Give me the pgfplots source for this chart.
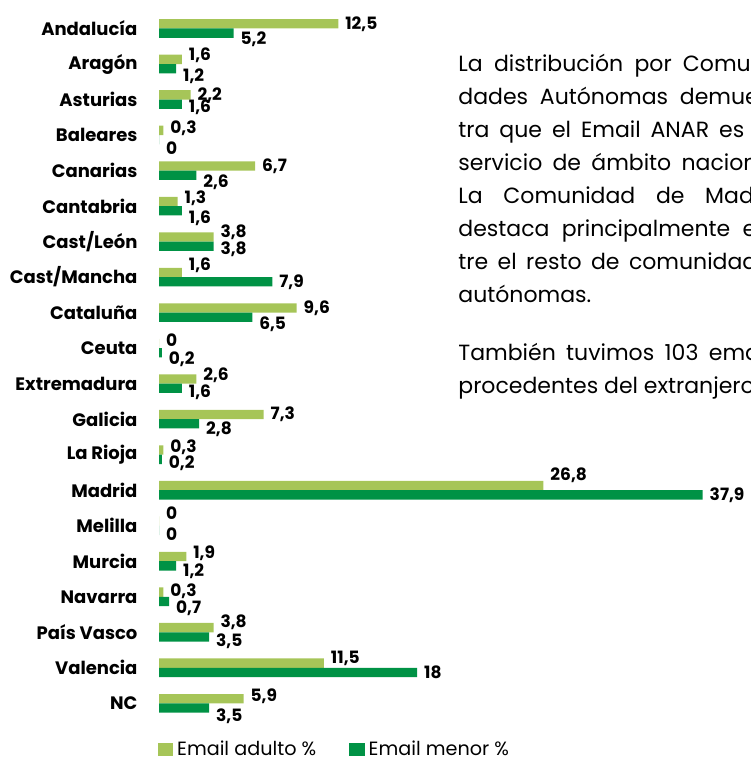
\documentclass[border=0pt]{standalone}
\usepackage{fontspec}
\setmainfont{Poppins}
\usepackage{pgfplots}
\pgfplotsset{compat=1.18}
\usepackage{pgfplotstable}
\definecolor{lgreen}{RGB}{166,197,88}
\definecolor{dgreen}{RGB}{0,146,69}

\pgfplotstableread{
idx val dy
0 12.5 0
1 1.6 2.2
2 2.2 0
3 0.3 1
4 6.7 0
5 1.3 1.75
6 3.8 2.5
7 1.6 3.75
8 9.6 0
9 0 1.5
10 2.6 2
11 7.3 0
12 0.3 1.5
13 26.8 5.3
14 0 4
15 1.9 1.8
16 0.3 0.5
17 3.8 2.85
18 11.5 2.25
19 5.9 1.35
}\adulto

\pgfplotstableread{
idx val dy
0 5.2 -3.2
1 1.2 -3.8
2 1.6 -1.3
3 0 -4
4 2.6 -3.3
5 1.6 -3.6
6 3.8 -1.3
7 7.9 0
8 6.5 -3.5
9 0.2 -3
10 1.6 -2
11 2.8 -2.5
12 0.2 -2
13 37.9 0
14 0 -2
15 1.2 -2.5
16 0.7 -3.2
17 3.5 -2
18 18 0
19 3.5 -4
}\menor

\newcommand\pline[3][s]{\node[anchor=base west, inner sep=0pt, font=\fontsize{11}{13}\selectfont] at (229pt,#2) {\makebox[162pt][#1]{#3}};}

\begin{document}
\begin{tikzpicture}
\useasboundingbox (0,0) rectangle (375pt,379pt);
\clip (0,0) rectangle (375pt,379pt);
\begin{axis}[
  at={(79.5pt,18.47pt)}, anchor=south west,
  scale only axis, width=271.85pt, height=355.16pt,
  xbar,
  legend image code/.code={\fill[#1] (0pt,-3.35pt) rectangle (7.7pt,3.35pt);},
  xmin=0, xmax=37.9, ymin=-0.5, ymax=19.5, y dir=reverse,
  enlargelimits=false,
  bar width=0.262,
  axis line style={draw=none}, tick style={draw=none},
  xtick=\empty,
  ytick={0,...,19},
  yticklabels={Andalucía, Aragón, Asturias, Baleares, Canarias, Cantabria, Cast/León, Cast/Mancha, Cataluña, Ceuta, Extremadura, Galicia, La Rioja, Madrid, Melilla, Murcia, Navarra, País Vasco, Valencia, NC},
  yticklabel style={font=\fontsize{9}{10}\selectfont\bfseries, inner sep=0pt, xshift=-6.3pt},
  nodes near coords,
  visualization depends on={\thisrow{dy}\as\dy},
  every node near coord/.append style={font=\fontsize{8.5}{10}\selectfont\bfseries, anchor=west, inner sep=0pt, xshift=3.3pt, yshift=\dy pt, text=black},
  /pgf/number format/use comma,
  /pgf/number format/assume math mode=true,
  clip=false,
  legend columns=2,
  legend style={at={(-0.003,-0.0398)}, anchor=west, draw=none, fill=none, inner sep=0pt,
    font=\fontsize{9.6}{11}\selectfont, nodes={inner sep=2pt},
    /tikz/every even column/.append style={column sep=14.5pt}},
]
\addplot[fill=lgreen, draw=none, bar shift=-0.131] table[x=val, y=idx] {\adulto};
\addlegendentry{Email adulto \%}
\addplot[fill=dgreen, draw=none, bar shift=0.131] table[x=val, y=idx] {\menor};
\addlegendentry{Email menor \%}
\end{axis}
\pline{343.35pt}{La distribución por Comuni-}
\pline{326.85pt}{dades Autónomas demues-}
\pline{310.35pt}{tra que el Email ANAR es un}
\pline{293.85pt}{servicio de ámbito nacional.}
\pline{277.35pt}{La Comunidad de Madrid}
\pline{260.85pt}{destaca principalmente en-}
\pline{244.35pt}{tre el resto de comunidades}
\pline[l]{227.85pt}{autónomas.}
\pline{198.6pt}{También tuvimos 103 emails}
\pline[l]{182.1pt}{procedentes del extranjero.}
\end{tikzpicture}
\end{document}
